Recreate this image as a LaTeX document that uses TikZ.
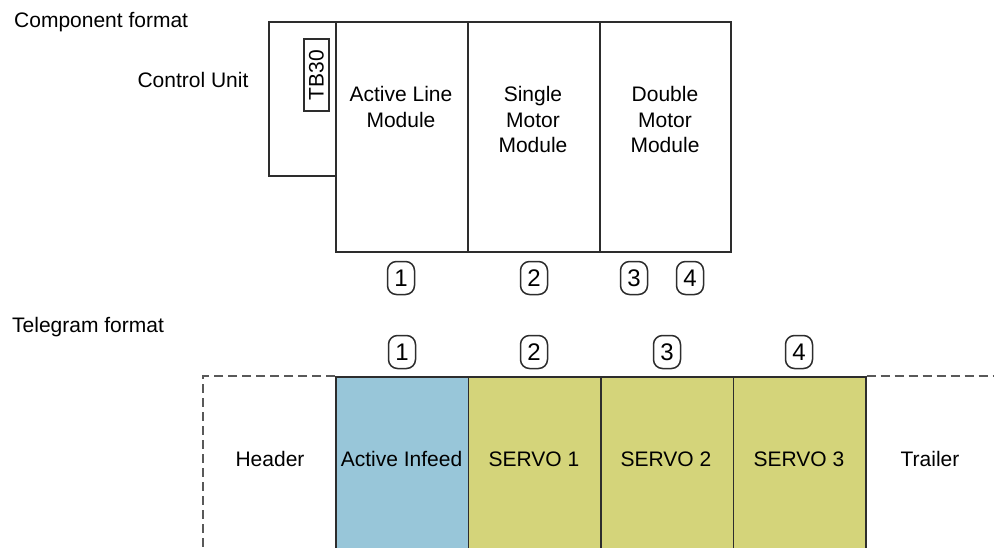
\documentclass[tikz,border=0pt]{standalone}
\usepackage{fontspec}
\setmainfont{Liberation Sans}
\definecolor{infeedblue}{RGB}{152,198,217}
\definecolor{servoolive}{RGB}{212,212,122}
\definecolor{linegray}{RGB}{45,45,45}
\begin{document}
\begin{tikzpicture}[x=1pt,y=-1pt,
  lbl/.style={font=\fontsize{21}{25.5}\selectfont, inner sep=0pt, align=center},
  modbox/.style={draw=linegray, line width=1.7pt, anchor=north west, minimum width=132pt, minimum height=230pt, inner sep=0pt},
  num/.style={draw=linegray, line width=1.5pt, rounded corners=9pt, minimum width=27pt, minimum height=33pt, inner sep=0pt, font=\fontsize{24}{28}\selectfont},
  seg/.style={draw=linegray, line width=1.7pt, anchor=north west, minimum width=132.5pt, minimum height=200pt, inner sep=0pt},
  dsh/.style={draw=black!65, line width=1.7pt, dash pattern=on 9pt off 5pt}]
\useasboundingbox (0,0) rectangle (994,547);
\clip (0,0) rectangle (994,547);
\fill[white] (0,0) rectangle (994,547);

% ---------- Component format ----------
\node[lbl, anchor=west] (compfmt) at (14,22) {Component format};
\node[lbl] (cutext) at (193,80) {Control Unit};

\node[modbox, minimum width=67pt, minimum height=154pt] (cu) at (268,21) {};
\node[modbox] (alm) at (335,21) {};
\node[modbox] (smm) at (467,21) {};
\node[modbox, minimum width=131pt] (dmm) at (599,21) {};

\node[draw=linegray, line width=1.5pt, rotate=90, minimum width=72pt, minimum height=25pt, inner sep=0pt, font=\fontsize{21}{25}\selectfont] (tb30) at (316.5,75) {TB30};

\node[lbl] (almtext) at (401,107) {Active Line\\Module};
\node[lbl] (smmtext) at (533,119.5) {Single\\Motor\\Module};
\node[lbl] (dmmtext) at (665,119.5) {Double\\Motor\\Module};

\node[num] (c1) at (401,278) {1};
\node[num] (c2) at (534,278) {2};
\node[num] (c3) at (634,278) {3};
\node[num] (c4) at (690,278) {4};

% ---------- Telegram format ----------
\node[lbl, anchor=west] (telfmt) at (12,327) {Telegram format};

\node[num] (t1) at (402,352) {1};
\node[num] (t2) at (534,352) {2};
\node[num] (t3) at (667,352) {3};
\node[num] (t4) at (799,352) {4};

\node[seg, fill=infeedblue] (infeed) at (335,376) {};
\node[seg, fill=servoolive] (servo1) at (467.5,376) {};
\node[seg, fill=servoolive] (servo2) at (600,376) {};
\node[seg, fill=servoolive] (servo3) at (732.5,376) {};

\coordinate (hdrtop) at (203,376);
\coordinate (hdrbot) at (203,560);
\coordinate (trlend) at (994,376);
\draw[dsh] (infeed.north west) -- (hdrtop) -- (hdrbot);
\draw[dsh] (servo3.north east) -- (trlend);

\node[lbl] (hdrtext) at (270,459) {Header};
\node[lbl] (inftext) at (401.5,459) {Active Infeed};
\node[lbl] (s1text) at (534,459) {SERVO 1};
\node[lbl] (s2text) at (666,459) {SERVO 2};
\node[lbl] (s3text) at (799,459) {SERVO 3};
\node[lbl] (trltext) at (930,459) {Trailer};
\end{tikzpicture}
\end{document}
